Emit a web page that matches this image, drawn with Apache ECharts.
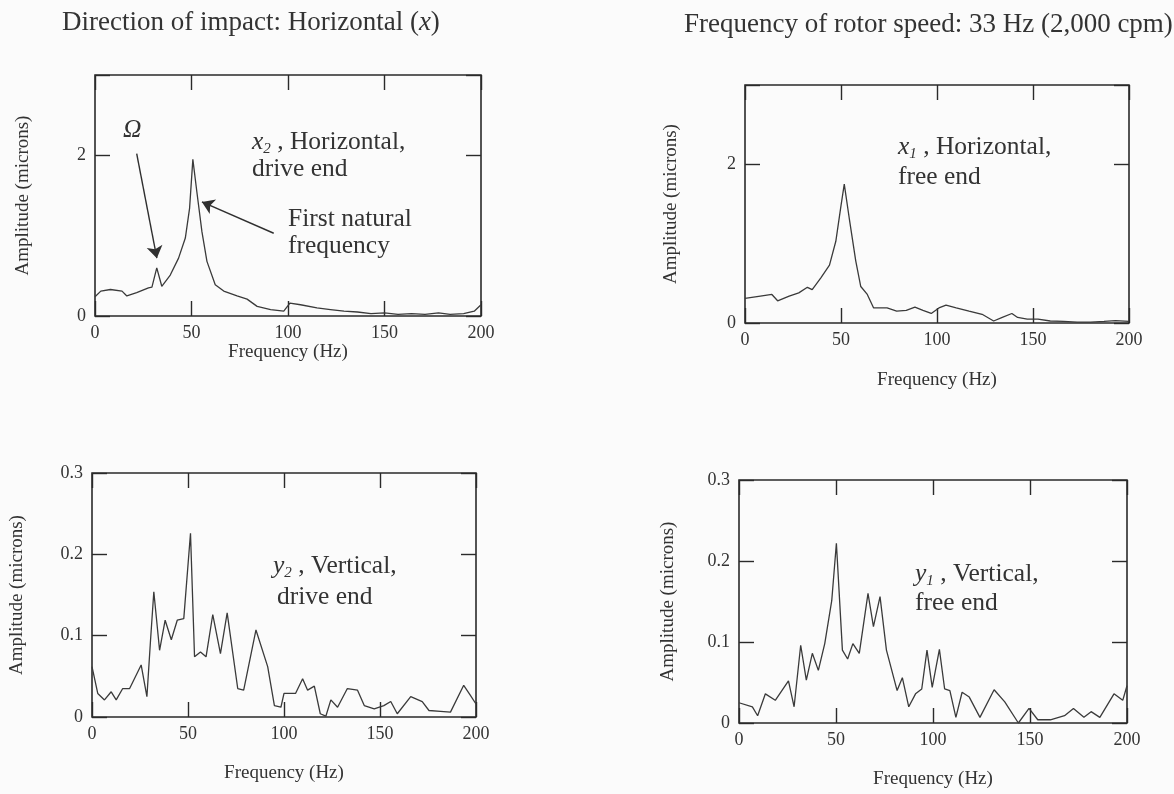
<!DOCTYPE html>
<html>
<head>
<meta charset="utf-8">
<script src="https://cdn.jsdelivr.net/npm/echarts@6/dist/echarts.min.js"></script>
<style>
html,body{margin:0;padding:0;background:#fbfbfb;}
#c{width:1174px;height:794px;}
</style>
</head>
<body>
<div id="c"></div>
<script>
// ---- data ----
const freqTicks = [0, 50, 100, 150, 200];
const topAmpTickLabels = [0, 2];
const bottomAmpTickLabels = [0, 0.1, 0.2, 0.3];

// x2 : Horizontal, drive end (top-left)
const x2Freq = [0, 3, 8, 14, 16.5, 21.6, 27.7, 29.5, 32, 34.6, 39, 43.3, 46.8, 49, 50.7, 52.8, 55.4, 58, 62.3, 66.7, 73.6, 78.8, 84, 91, 97.8, 101, 106.5, 115, 122, 129, 136, 143, 150, 157, 164, 171, 178, 184, 191, 196.5, 200];
const x2Amp  = [0.24, 0.31, 0.33, 0.31, 0.25, 0.29, 0.35, 0.36, 0.60, 0.37, 0.51, 0.72, 0.97, 1.34, 1.95, 1.54, 1.05, 0.68, 0.39, 0.31, 0.25, 0.21, 0.12, 0.08, 0.06, 0.16, 0.14, 0.10, 0.08, 0.06, 0.05, 0.03, 0.04, 0.02, 0.03, 0.02, 0.04, 0.02, 0.03, 0.06, 0.14];

// x1 : Horizontal, free end (top-right)
const x1Freq = [0, 8, 14, 17, 23, 28, 32.5, 35, 39.5, 44, 47.3, 50, 51.7, 54.3, 57.7, 60.3, 63.7, 67, 74, 79, 84, 88.5, 92.7, 97, 101, 104.7, 110, 116.7, 123.5, 129.5, 134, 139, 142, 147, 152.6, 159, 166, 173, 180, 187, 193, 200];
const x1Amp  = [0.31, 0.34, 0.36, 0.28, 0.34, 0.38, 0.45, 0.42, 0.57, 0.73, 1.03, 1.48, 1.75, 1.32, 0.78, 0.46, 0.36, 0.19, 0.19, 0.15, 0.16, 0.20, 0.16, 0.12, 0.19, 0.225, 0.19, 0.15, 0.11, 0.025, 0.07, 0.12, 0.07, 0.05, 0.05, 0.025, 0.02, 0.01, 0.01, 0.02, 0.03, 0.02];

// y2 : Vertical, drive end (bottom-left)
const y2Freq = [0, 3, 6.5, 10, 12.6, 16, 19.6, 25.6, 28.6, 30.5, 32.2, 35.2, 38.1, 41.3, 44.4, 47.8, 51.3, 53.4, 56.5, 59.4, 62.9, 66.9, 70.4, 75.9, 79, 85.4, 91.5, 95, 98.4, 100, 106, 109.7, 112.3, 115.8, 118.9, 121.8, 124.4, 127.9, 133, 138.3, 141.8, 147, 152, 155.6, 159, 166, 172, 175.5, 181.5, 186.7, 193.6, 197, 200];
const y2Amp  = [0.062, 0.029, 0.021, 0.031, 0.021, 0.035, 0.035, 0.064, 0.025, 0.095, 0.154, 0.082, 0.119, 0.095, 0.119, 0.121, 0.226, 0.074, 0.080, 0.074, 0.126, 0.078, 0.128, 0.035, 0.033, 0.107, 0.062, 0.014, 0.012, 0.029, 0.029, 0.047, 0.033, 0.038, 0.004, 0.001, 0.021, 0.012, 0.035, 0.033, 0.014, 0.010, 0.014, 0.019, 0.004, 0.025, 0.019, 0.008, 0.007, 0.006, 0.039, 0.027, 0.016];

// y1 : Vertical, free end (bottom-right)
const y1Freq = [0, 6.9, 9.6, 13.6, 18.7, 25.5, 28.4, 31.8, 34.7, 37.8, 40.9, 44.2, 47.8, 50.2, 53.3, 56, 58.7, 62, 66.5, 69.3, 72.7, 76, 81.5, 84.2, 87.5, 91, 94.2, 96.9, 99.6, 103.3, 106, 108.7, 111.8, 115, 118.7, 124.2, 131.5, 137, 144, 149.5, 154, 160.5, 167.8, 172.4, 177.8, 181.5, 186, 193.3, 197.8, 200];
const y1Amp  = [0.025, 0.020, 0.009, 0.036, 0.028, 0.052, 0.020, 0.096, 0.053, 0.086, 0.065, 0.098, 0.151, 0.222, 0.090, 0.079, 0.098, 0.086, 0.160, 0.119, 0.156, 0.090, 0.040, 0.056, 0.020, 0.036, 0.042, 0.090, 0.044, 0.091, 0.042, 0.040, 0.007, 0.038, 0.032, 0.007, 0.041, 0.026, 0.0, 0.018, 0.004, 0.004, 0.009, 0.018, 0.007, 0.014, 0.007, 0.036, 0.028, 0.046];

// annotation arrows (top-left panel), in data coordinates [freq, amp]
const arrowOmega   = [[21.6, 2.02], [32.05, 0.72]];
const arrowNatural = [[92.6, 1.03], [55.4, 1.42]];

// ---- chart ----
const FONT = 'Liberation Serif, "Times New Roman", serif';
const INK = '#333333';
const chart = echarts.init(document.getElementById('c'), null, {renderer: 'canvas'});

const topFmt = v => topAmpTickLabels.indexOf(v) >= 0 ? String(v) : '';
const botFmt = v => { const f = bottomAmpTickLabels.find(t => Math.abs(t - v) < 1e-9); return f === undefined ? '' : String(f); };

const panels = [
  {grid: {left: 95,  top: 75,  width: 386, height: 241}, yMax: 3,   yInt: 2,   fmt: topFmt, freq: x2Freq, amp: x2Amp, xGap: 26, yGap: 62},
  {grid: {left: 745, top: 85,  width: 384, height: 238}, yMax: 3,   yInt: 2,   fmt: topFmt, freq: x1Freq, amp: x1Amp, xGap: 48, yGap: 64},
  {grid: {left: 92,  top: 473, width: 384, height: 244}, yMax: 0.3, yInt: 0.1, fmt: botFmt, freq: y2Freq, amp: y2Amp, xGap: 47, yGap: 65},
  {grid: {left: 739, top: 480, width: 388, height: 243}, yMax: 0.3, yInt: 0.1, fmt: botFmt, freq: y1Freq, amp: y1Amp, xGap: 47, yGap: 61}
];

const grids = [], xAxes = [], yAxes = [], series = [];
const tick = () => ({show: true, inside: true, length: 15, lineStyle: {color: '#2a2a2a', width: 1.4}});
const labelStyle = () => ({color: INK, fontFamily: FONT, fontSize: 18});
const nameStyle = () => ({color: INK, fontFamily: FONT, fontSize: 19});

panels.forEach((p, i) => {
  grids.push(Object.assign({show: true, borderColor: '#2a2a2a', borderWidth: 1.6, backgroundColor: 'transparent'}, p.grid));
  const xBase = () => ({gridIndex: i, type: 'value', min: freqTicks[0], max: freqTicks[freqTicks.length - 1], interval: freqTicks[1] - freqTicks[0],
    axisLine: {show: false, onZero: false}, axisTick: tick(), splitLine: {show: false}});
  xAxes.push(Object.assign(xBase(), {position: 'bottom',
    axisLabel: Object.assign({margin: 8}, labelStyle()),
    name: 'Frequency (Hz)', nameLocation: 'middle', nameGap: p.xGap, nameTextStyle: nameStyle()}));
  xAxes.push(Object.assign(xBase(), {position: 'top', axisLabel: {show: false}}));
  const yBase = () => ({gridIndex: i, type: 'value', min: 0, max: p.yMax, interval: p.yInt,
    axisLine: {show: false, onZero: false}, axisTick: tick(), splitLine: {show: false}});
  yAxes.push(Object.assign(yBase(), {position: 'left',
    axisLabel: Object.assign({margin: 9, formatter: p.fmt}, labelStyle()),
    name: 'Amplitude (microns)', nameLocation: 'middle', nameGap: p.yGap, nameRotate: 90, nameTextStyle: nameStyle()}));
  yAxes.push(Object.assign(yBase(), {position: 'right', axisLabel: {show: false}}));
  const s = {type: 'line', xAxisIndex: 2 * i, yAxisIndex: 2 * i,
    data: p.freq.map((f, k) => [f, p.amp[k]]),
    showSymbol: false, symbol: 'none', lineStyle: {color: '#3a3a3a', width: 1.3}, silent: true};
  if (i === 0) {
    s.markLine = {silent: true, symbol: ['none', 'arrow'], symbolSize: 12,
      lineStyle: {color: '#2f2f2f', width: 1.4, type: 'solid'}, label: {show: false},
      data: [arrowOmega, arrowNatural].map(a => [{coord: a[0]}, {coord: a[1]}])};
  }
  series.push(s);
});

const AF = 25.5;
const main = {fontFamily: FONT, fontSize: AF, color: INK, lineHeight: 29};
const ital = {fontFamily: FONT, fontSize: AF, color: INK, fontStyle: 'italic', lineHeight: 29};
const sub  = {fontFamily: FONT, fontSize: 15, color: INK, fontStyle: 'italic', lineHeight: 15, verticalAlign: 'bottom'};
const richA = {n: main, i: ital, s: sub};
function txt(x, y, text) {
  return {type: 'text', x: x, y: y, silent: true, style: {text: text, rich: richA, fill: INK,
    font: AF + 'px ' + FONT, verticalAlign: 'middle', align: 'left'}};
}
const TF = 27;
const titleRich = {n: {fontFamily: FONT, fontSize: TF, color: INK}, i: {fontFamily: FONT, fontSize: TF, color: INK, fontStyle: 'italic'}};
function title(x, y, text) {
  return {type: 'text', x: x, y: y, silent: true, style: {text: text, rich: titleRich, fill: INK,
    font: TF + 'px ' + FONT, verticalAlign: 'middle', align: 'left'}};
}

const graphics = [
  title(62, 23, '{n|Direction of impact: Horizontal (}{i|x}{n|)}'),
  title(684, 25, '{n|Frequency of rotor speed: 33 Hz (2,000 cpm)}'),
  txt(123, 130, '{i|Ω}'),
  txt(252, 142, '{i|x}{s|2}{n| , Horizontal,}'),
  txt(252, 169, '{n|drive end}'),
  txt(288, 219, '{n|First natural}'),
  txt(288, 246, '{n|frequency}'),
  txt(898, 147, '{i|x}{s|1}{n| , Horizontal,}'),
  txt(898, 177, '{n|free end}'),
  txt(273, 566, '{i|y}{s|2}{n| , Vertical,}'),
  txt(277, 597, '{n|drive end}'),
  txt(915, 574, '{i|y}{s|1}{n| , Vertical,}'),
  txt(915, 603, '{n|free end}')
];

chart.setOption({
  backgroundColor: '#fbfbfb',
  animation: false,
  grid: grids,
  xAxis: xAxes,
  yAxis: yAxes,
  series: series,
  graphic: graphics
});
</script>
</body>
</html>
